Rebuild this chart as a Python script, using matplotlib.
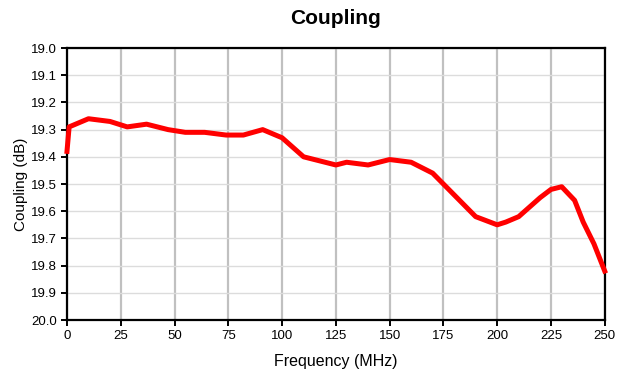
import matplotlib.pyplot as plt

plt.rcParams["font.family"] = ["Liberation Sans", "DejaVu Sans"]

freq_mhz = [0, 1, 10, 20, 28, 37, 47, 55, 64, 74, 82, 91, 100, 110, 125,
            130, 140, 150, 160, 170, 180, 190, 200, 204, 210, 220, 225,
            230, 236, 240, 245, 250]
coupling_db = [19.38, 19.29, 19.26, 19.27, 19.29, 19.28, 19.30, 19.31, 19.31,
               19.32, 19.32, 19.30, 19.33, 19.40, 19.43, 19.42, 19.43, 19.41,
               19.42, 19.46, 19.54, 19.62, 19.65, 19.64, 19.62, 19.55, 19.52,
               19.51, 19.56, 19.64, 19.72, 19.82]
x_ticks = list(range(0, 251, 25))
y_ticks = [19.0 + i * 0.1 for i in range(11)]

fig = plt.figure(figsize=(6.26, 3.82), dpi=100)
ax = fig.add_axes([0.107, 0.1623, 0.859, 0.712])

ax.plot(freq_mhz, coupling_db, color="#ff0000", linewidth=3.6,
        solid_joinstyle="round", zorder=3, clip_on=False)

ax.set_xlim(0, 250)
ax.set_ylim(20.0, 19.0)
ax.set_xticks(x_ticks)
ax.set_yticks(y_ticks)
ax.set_yticklabels([f"{v:.1f}" for v in y_ticks])

ax.grid(axis="x", color="#c0c0c0", linewidth=1.6, zorder=1)
ax.grid(axis="y", color="#dcdcdc", linewidth=1.0, zorder=1)
ax.set_axisbelow(True)

for s in ax.spines.values():
    s.set_linewidth(1.6)
    s.set_color("black")
ax.tick_params(direction="out", length=4, width=1.4, labelsize=9.5,
               colors="black")

ax.set_xlabel("Frequency (MHz)", fontsize=11.5, labelpad=8)
ax.set_ylabel("Coupling (dB)", fontsize=11, labelpad=2)
ax.set_title("Coupling", fontsize=15, fontweight="bold", pad=17)

fig.savefig("out.png", dpi=100)
